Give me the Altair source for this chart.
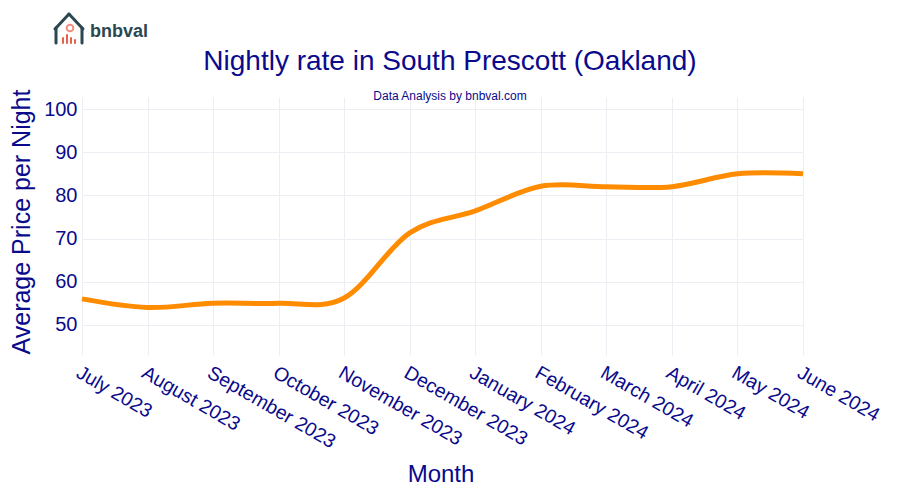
import altair as alt
import pandas as pd

months = ["July 2023", "August 2023", "September 2023", "October 2023", "November 2023",
          "December 2023", "January 2024", "February 2024", "March 2024", "April 2024",
          "May 2024", "June 2024"]
prices = [56.0, 54.0, 55.0, 55.0, 56.2, 71.3, 76.4, 82.1, 82.0, 82.0, 85.0, 85.0]
y_ticks = [50, 60, 70, 80, 90, 100]

NAVY = "#0a0a8c"
FONT = "Liberation Sans"

df = pd.DataFrame({"month": months, "price": prices})
one = pd.DataFrame({"k": [0]})

line = alt.Chart(df).mark_line(
    color="#FF8C00", strokeWidth=5, interpolate="cardinal"
).encode(
    x=alt.X("month:O", sort=months,
            scale=alt.Scale(type="point", padding=0),
            axis=alt.Axis(title=None, labelAngle=30, labelAlign="left", labelBaseline="top",
                          labelFontSize=19.5, labelColor=NAVY, labelFont=FONT, labelPadding=8,
                          ticks=False, domain=False, grid=True, gridColor="#ebeef2",
                          labelOverlap=False)),
    y=alt.Y("price:Q", scale=alt.Scale(domain=[43, 102.8], nice=False, zero=False),
            axis=alt.Axis(title=None, values=y_ticks, labelFontSize=20, labelColor=NAVY,
                          labelFont=FONT, labelPadding=5, ticks=False, domain=False,
                          grid=True, gridColor="#ebeef2")),
)

def txt(text, x, y, size, color=NAVY, angle=0, weight="normal", align="center", baseline="alphabetic"):
    return alt.Chart(one).mark_text(
        text=text, fontSize=size, color=color, angle=angle, fontWeight=weight,
        align=align, baseline=baseline, font=FONT
    ).encode(x=alt.value(x), y=alt.value(y))

OX, OY = 82, 97  # plot origin on page

title = txt("Nightly rate in South Prescott (Oakland)", 450 - OX, 70 - OY, 28)
subtitle = txt("Data Analysis by bnbval.com", 450 - OX, 100 - OY, 12)
ytitle = txt("Average Price per Night", 22 - OX, 222 - OY, 25, angle=270, baseline="middle")
xtitle = txt("Month", 441 - OX, 482 - OY, 24)
logo_text = txt("bnbval", 90 - OX, 37 - OY, 18, color="#2b4750", weight="bold", align="left")

def seg(x1, y1, x2, y2, color="#2b4750", w=3):
    return alt.Chart(one).mark_rule(color=color, strokeWidth=w, strokeCap="round").encode(
        x=alt.value(x1 - OX), y=alt.value(y1 - OY), x2=alt.value(x2 - OX), y2=alt.value(y2 - OY))

logo = [
    seg(55, 29, 69, 14), seg(69, 14, 83, 29),
    seg(56, 28, 56, 43), seg(82, 28, 82, 43),
    seg(63, 43, 63, 38, "#e8604c", 2), seg(67, 43, 67, 35, "#e8604c", 2),
    seg(71, 43, 71, 38, "#e8604c", 2), seg(75, 43, 75, 40, "#e8604c", 2),
]
ring = alt.Chart(one).mark_point(shape="circle", size=45, color="#e8604c", strokeWidth=2,
                                 filled=False).encode(x=alt.value(70 - OX), y=alt.value(28 - OY))

chart = alt.layer(line, title, subtitle, ytitle, xtitle, logo_text, ring, *logo).properties(
    width=721, height=258,
    autosize=alt.AutoSizeParams(type="none"),
    padding={"left": 74, "top": 89, "right": 89, "bottom": 137},
    background="white",
).configure_view(stroke=None)

chart.save("out.html", embed_options={"renderer": "svg", "actions": False})
